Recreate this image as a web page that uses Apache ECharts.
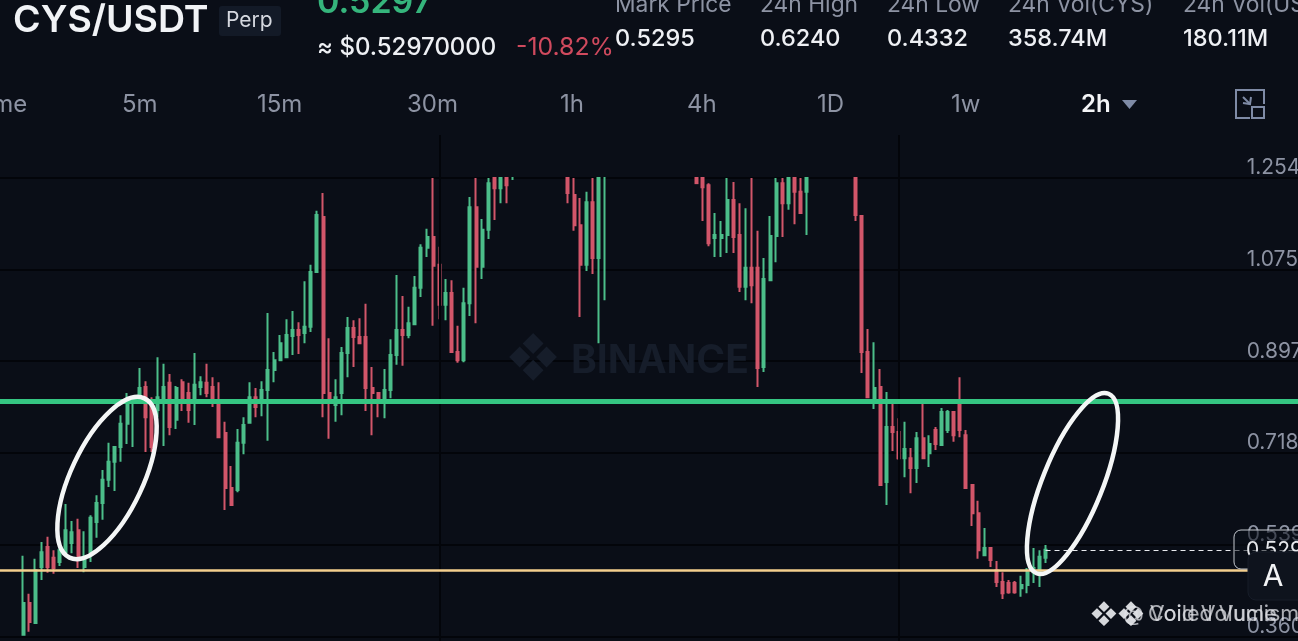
<!DOCTYPE html>
<html><head><meta charset="utf-8">
<style>html,body{margin:0;padding:0;background:#0a0e17;overflow:hidden}#c{width:1298px;height:641px}</style>
<script src="https://cdn.jsdelivr.net/npm/echarts@6/dist/echarts.min.js"></script></head>
<body><div id="c"></div><script>
const _ = null;
// candle prices, oldest to newest; null = candle lies wholly above the visible window
const opens = [.364,.426,.387,.496,.535,.514,.506,.525,.543,.568,.496,.525,.584,.621,.666,.701,.730,.775,.816,.821,
.847,.816,.802,.816,.855,.783,.856,.835,.816,.847,.855,.847,.821,.757,.650,.646,.738,.777,.827,.821,
.841,.880,.899,.905,.946,.958,.952,.964,1.071,1.178,.835,.812,.835,.913,.962,.944,.944,.845,.835,.821,
.841,.909,.958,.948,.969,1.040,1.118,1.139,1.085,1.007,1.030,.915,.899,1.010,1.197,1.081,1.153,1.262,1.234,1.28,
1.32,_,_,_,_,_,_,_,_,1.29,1.221,1.162,1.085,1.207,1.098,1.33,_,_,_,_,
_,_,_,_,_,_,_,_,_,_,1.30,1.27,1.240,1.137,1.137,1.143,1.211,1.143,1.042,1.079,
1.079,.886,1.055,1.141,1.244,1.205,1.28,1.227,1.227,_,_,_,_,_,_,_,1.30,1.180,.915,.821,
.847,.662,.769,.759,.708,.708,.689,.747,.718,.763,.734,.763,.798,.816,.753,.656,.601,.519,.533,.490,
.467,.465,.465,.455,.461,.486,.486,.514];
const closes = [.426,.389,.490,.525,.496,.494,.529,.568,.564,.514,.514,.592,.621,.666,.701,.730,.775,.816,.821,.845,
.788,.730,.827,.847,.769,.845,.821,.802,.851,.856,.835,.825,.749,.650,.617,.738,.773,.827,.808,.841,
.880,.899,.932,.948,.958,.948,.964,1.071,1.182,.835,.816,.827,.913,.962,.944,.932,.845,.835,.821,.841,
.909,.958,.948,.971,1.040,1.118,1.139,1.083,1.007,1.030,.915,.899,1.010,1.197,1.081,1.153,1.244,1.234,1.28,1.240,
1.27,_,_,_,_,_,_,_,_,1.225,1.162,1.085,1.207,1.098,1.28,1.27,_,_,_,_,
_,_,_,_,_,_,_,_,_,_,1.244,1.236,1.127,1.143,1.143,1.211,1.139,1.042,1.079,1.045,
.884,1.057,1.141,1.244,1.205,1.27,1.227,1.186,1.29,_,_,_,_,_,_,_,1.182,.915,.827,.845,
.656,.769,.759,.708,.726,.689,.747,.708,.736,.736,.798,.798,.753,.763,.650,.601,.529,.533,.510,.467,
.445,.447,.447,.461,.486,.494,.516,.5297];
const lows = [.362,.370,.385,.471,.485,.483,.498,.523,.523,.494,.486,.506,.553,.588,.652,.644,.701,.736,.730,.816,
.720,.720,.788,.732,.753,.765,.800,.777,.773,.831,.827,.808,.747,.607,.615,.642,.716,.775,.788,.790,
.742,.856,.897,.903,.909,.911,.932,.954,1.071,.788,.746,.779,.792,.866,.886,.931,.800,.753,.788,.786,
.825,.890,.888,.942,.967,1.022,1.100,.966,.979,.977,.913,.894,.895,.985,.971,1.057,1.135,1.172,1.205,1.205,
1.250,_,_,_,_,_,_,_,_,1.205,1.151,.983,1.073,1.067,.932,1.016,_,_,_,_,
_,_,_,_,_,_,_,_,_,_,1.244,1.170,1.121,1.100,1.100,1.108,1.108,1.032,1.016,1.010,
.847,.876,1.053,1.090,1.139,1.192,1.164,1.186,1.143,_,_,_,_,_,_,_,1.170,.874,.825,.804,
.654,.617,.722,.705,.671,.640,.660,.707,.691,.724,.733,.757,.740,.749,.648,.576,.512,.518,.496,.457,
.434,.444,.444,.438,.445,.465,.457,.504];
const highs = [.518,.444,.512,.545,.555,.529,.535,.619,.586,.590,.566,.597,.636,.685,.738,.732,.792,.835,.827,.884,
.858,.827,.905,.892,.872,.849,.862,.855,.913,.868,.892,.866,.856,.779,.693,.765,.788,.856,.845,.858,
.991,.915,.948,.979,.995,.973,1.053,1.085,1.190,1.225,.942,.862,.925,.983,.977,.981,1.009,.886,.837,.882,
.940,1.065,1.024,1.003,1.063,1.125,1.155,1.30,1.120,1.057,1.055,.966,1.040,1.217,1.30,1.174,1.29,1.30,1.31,1.33,
1.35,_,_,_,_,_,_,_,_,1.33,1.30,1.215,1.227,1.30,1.32,1.36,_,_,_,_,
_,_,_,_,_,_,_,_,_,_,1.32,1.30,1.244,1.186,1.170,1.28,1.246,1.205,1.195,1.30,
1.151,1.098,1.180,1.29,1.29,1.30,1.31,1.30,1.32,_,_,_,_,_,_,_,1.33,1.182,.960,.934,
.882,.837,.818,.786,.779,.728,.759,.818,.753,.769,.806,.802,.800,.866,.763,.658,.625,.572,.535,.508,
.486,.471,.469,.479,.494,.533,.529,.539];
const priceTicks = [1.254,1.075,0.897,0.718,0.539,0.360];
const windowTop = 1.254, windowBottom = 0.352;
const resistance = 0.824, support = 0.494, lastPrice = 0.5297;
const leadingSlots = 4, trailingSlots = 41;
const sessionLineSlots = [72,147];
const timeframes = ['Time','5m','15m','30m','1h','4h','1D','1w','2h'];
const statNames = ['Mark Price','24h High','24h Low','24h Vol(CYS)','24h Vol(USDT)'];
const statValues = ['0.5295','0.6240','0.4332','358.74M','180.11M'];

const slots = leadingSlots + opens.length + trailingSlots;
const categories = Array.from({length:slots},(_,i)=>String(i));
// the picture is cut off at the top of the window, so prices stop there
const cap = v => Math.min(v, windowTop);
const candles = categories.map((c,i)=>{
  const k=i-leadingSlots;
  if(k<0||k>=opens.length||opens[k]===null) return ['-','-','-','-'];
  return [cap(opens[k]),cap(closes[k]),cap(lows[k]),cap(highs[k])];
});
const FONT='Inter, "Noto Sans", sans-serif';
const GRAY='#8d93a3', WHITE='#eef0f4';
const t=(text,x,y,size,fill,weight,align,z)=>({type:'text',z:z||100,style:{text,x,y,fill,
  font:(weight||'400')+' '+size+'px '+FONT,textAlign:align||'left',textVerticalAlign:'middle'}});
const statX=[615,760,887,1008,1183];
const tfX=[-29,122,257,407,560,687,817,951,1081];
const g=[
 t('BINANCE',571,361,39,'#161d2a','700','left',0),
 t('❖',533,360,50,'#161d2a','400','center',0),
 t('CYS/USDT',13,21,37.5,'#f1f3f6','600'),
 {type:'rect',z:99,shape:{x:219,y:6,width:62,height:30,r:3},style:{fill:'#131a27'}},
 t('Perp',226,21,21,'#d5d8df'),
 t('0.5297',317,3,34,'#35b57c','600'),
 t('≈ $0.52970000',317,48,24,WHITE,'500'),
 t('-10.82%',516,48,24.8,'#d04a5e','400'),
 {type:'ellipse',z:110,shape:{cx:107,cy:478,rx:36,ry:88},rotation:-0.44,originX:107,originY:478,
   style:{fill:null,stroke:'#f4f6f6',lineWidth:4.5}},
 {type:'ellipse',z:110,shape:{cx:1072.5,cy:483.5,rx:30,ry:96.7},rotation:-0.382,originX:1072.5,originY:483.5,
   style:{fill:null,stroke:'#f4f6f6',lineWidth:4.5}},
 {type:'polygon',z:100,shape:{points:[[1122,100],[1137,100],[1129.5,109]]},style:{fill:'#7f8ba6'}},
 {type:'polyline',z:100,shape:{points:[[1250,118],[1236,118],[1236,90],[1264,90],[1264,104]]},style:{stroke:'#7f8ba6',lineWidth:2,fill:null}},
 {type:'rect',z:100,shape:{x:1252,y:107,width:12,height:11},style:{stroke:'#7f8ba6',lineWidth:2,fill:null}},
 {type:'polyline',z:100,shape:{points:[[1243,97],[1250,104]]},style:{stroke:'#7f8ba6',lineWidth:2}},
 {type:'polyline',z:100,shape:{points:[[1243,103],[1250,104],[1251,97]]},style:{stroke:'#7f8ba6',lineWidth:2,fill:null}},
 {type:'rect',z:120,shape:{x:1234,y:530,width:80,height:39,r:7},style:{fill:'rgba(10,14,23,0.55)',stroke:'#c4c8cf',lineWidth:1}},
 t('0.5297',1246,551,21,'#e6e8ec','400','left',121),
 {type:'rect',z:122,shape:{x:1248,y:552,width:70,height:48,r:8},style:{fill:'#0e131d',stroke:'#171d29',lineWidth:1}},
 t('A',1273,577,30,'#f2f3f5','400','center',123),
 t('❖',1104,615,26,'#d6d8dc','400','center',125),
 t('❖',1131,615,26,'#d6d8dc','400','center',125),
 t('@ Void Volume',1123,615,21.5,'rgba(225,227,232,0.75)','400','left',125),
 t('Coiled Vuclisme',1148,615,21.5,'rgba(225,227,232,0.75)','400','left',126)
];
statNames.forEach((s,i)=>{g.push(t(s,statX[i],5,22.8,GRAY));g.push(t(statValues[i],statX[i],39,23.5,WHITE,'500'));});
timeframes.forEach((s,i)=>{const last=i===timeframes.length-1;g.push(t(s,tfX[i],105,24,last?'#f4f5f7':GRAY,last?'600':'400'));});

const chart=echarts.init(document.getElementById('c'),null,{renderer:'canvas'});
const GL=-4.55, GW=slots*6.123;
chart.setOption({
 animation:false,backgroundColor:'#0a0e17',
 grid:[{left:GL,width:GW,top:178,bottom:0,outerBoundsMode:'none'},{left:GL,width:GW,top:135,bottom:0,outerBoundsMode:'none'}],
 xAxis:[
  {type:'category',data:categories,gridIndex:0,axisLine:{show:false},axisTick:{show:false},axisLabel:{show:false},splitLine:{show:false}},
  {type:'category',data:categories,gridIndex:1,axisLine:{show:false},axisTick:{show:false},axisLabel:{show:false},splitLine:{show:false}}
 ],
 yAxis:[
  {type:'value',gridIndex:0,position:'right',min:windowBottom,max:windowTop,scale:true,
   axisLine:{show:false},
   axisTick:{show:false,customValues:priceTicks},
   axisLabel:{show:true,customValues:priceTicks,inside:true,align:'left',verticalAlign:'bottom',margin:53,
     color:GRAY,fontSize:21,fontFamily:FONT,lineHeight:20,hideOverlap:false,formatter:v=>v.toFixed(3),showMinLabel:true,showMaxLabel:true},
   splitLine:{show:true,lineStyle:{color:'#03050a',width:2}}},
  {type:'value',gridIndex:1,min:0,max:1,show:false,splitLine:{show:false}}
 ],
 graphic:{elements:g},
 series:[
  {type:'line',xAxisIndex:1,yAxisIndex:1,data:[],z:1,silent:true,
   markLine:{silent:true,symbol:'none',label:{show:false},animation:false,
     lineStyle:{color:'#03050a',width:2,type:'solid'},
     data:sessionLineSlots.map(x=>({xAxis:x}))}},
  {type:'candlestick',xAxisIndex:0,yAxisIndex:0,z:3,barWidth:2.5,data:candles,
   itemStyle:{color:'#4cbe8a',color0:'#d2566a',borderColor:'#4cbe8a',borderColor0:'#d2566a',borderWidth:2},
   markLine:{silent:true,symbol:'none',label:{show:false},animation:false,
     data:[
      {yAxis:resistance,lineStyle:{color:'#35c682',width:5,type:'solid'}},
      {yAxis:support,lineStyle:{color:'#f4cf8e',width:2.5,type:'solid'}},
      [{xAxis:leadingSlots+opens.length-1,yAxis:lastPrice,lineStyle:{color:'#e8eaee',width:1,type:[5,4]}},
       {xAxis:slots-1,yAxis:lastPrice}]
     ]}}
 ]
});
</script></body></html>
